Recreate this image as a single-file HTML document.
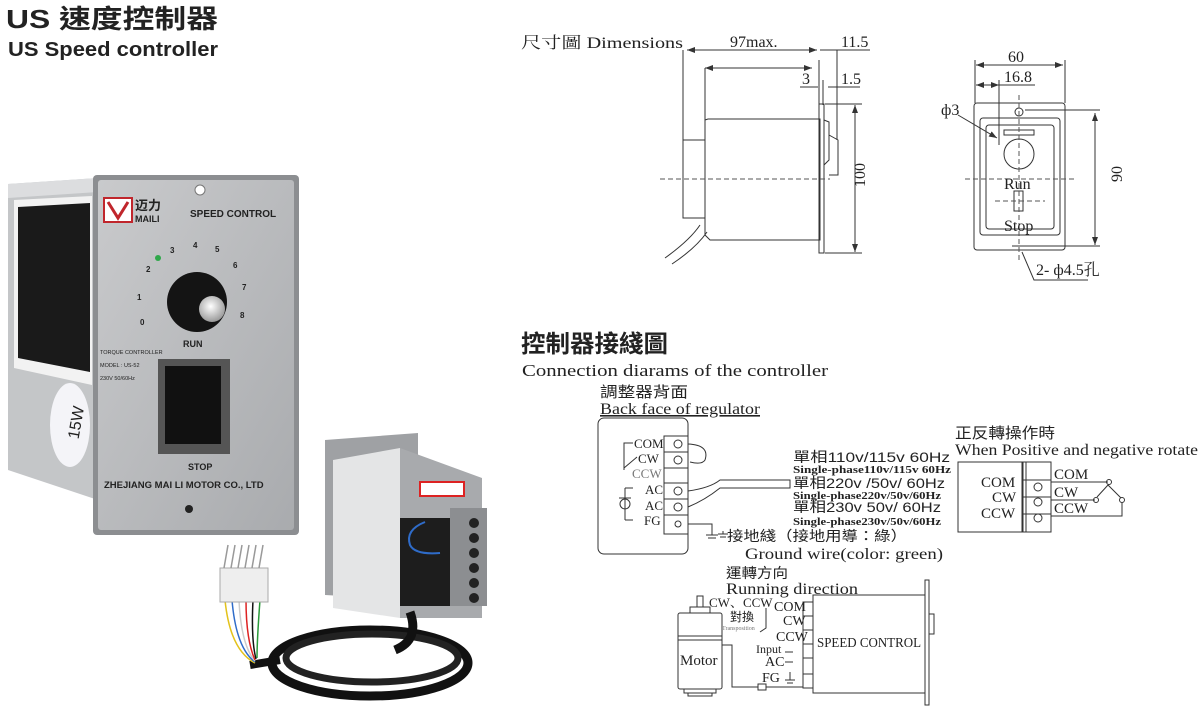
<!DOCTYPE html>
<html><head><meta charset="utf-8"><style>
html,body{margin:0;padding:0;background:#fff;}
svg{display:block}
.s{font-family:"Liberation Serif","Noto Serif CJK SC",serif;fill:#222}
.a{font-family:"Liberation Sans","Noto Sans CJK TC",sans-serif;fill:#222}
.ln{stroke:#333;stroke-width:1;fill:none}
.d{stroke:#555;stroke-width:1;stroke-dasharray:5,3;fill:none}
</style></head><body>
<svg width="1200" height="712" viewBox="0 0 1200 712" xmlns="http://www.w3.org/2000/svg">
<defs><marker id="ar" markerWidth="8" markerHeight="6" refX="8" refY="3" orient="auto"><path d="M0,0 L8,3 L0,6z" fill="#333"/></marker>
<marker id="al" markerWidth="8" markerHeight="6" refX="0" refY="3" orient="auto"><path d="M8,0 L0,3 L8,6z" fill="#333"/></marker>
<linearGradient id="gp" x1="0" x2="1" y1="0" y2="1"><stop offset="0" stop-color="#c9cacc"/><stop offset="1" stop-color="#a9abae"/></linearGradient>
<radialGradient id="kn" cx="0.45" cy="0.4" r="0.6"><stop offset="0" stop-color="#fff"/><stop offset="1" stop-color="#9a9a9a"/></radialGradient></defs>

<!-- titles -->
<text x="6" y="28" class="a" font-size="26" font-weight="bold" textLength="212" lengthAdjust="spacingAndGlyphs">US 速度控制器</text>
<text x="8" y="56" class="a" font-size="20" font-weight="bold" textLength="210" lengthAdjust="spacingAndGlyphs">US Speed controller</text>

<!-- photo 1: side -->
<path d="M8,184 L98,178 L98,500 L8,470 Z" fill="#c4c6c8"/>
<path d="M8,184 L98,178 L98,192 L8,198Z" fill="#dcdddf"/>
<path d="M14,200 L92,196 L92,385 L14,368Z" fill="#f2f2f2"/>
<path d="M18,207 L90,203 L90,372 L18,358Z" fill="#1a1a1a"/>
<ellipse cx="70" cy="425" rx="20" ry="42" fill="#f4f4f8"/>
<text x="62" y="440" class="a" font-size="16" fill="#3a3a8a" transform="rotate(-80 70 430)">15W</text>
<!-- front panel -->
<rect x="93" y="175" width="206" height="360" rx="4" fill="#8c8e91"/>
<rect x="98" y="180" width="196" height="350" rx="3" fill="url(#gp)"/>
<circle cx="200" cy="190" r="5" fill="#fff" stroke="#777"/>
<rect x="104" y="198" width="28" height="24" fill="#fff" stroke="#c0262c" stroke-width="2"/>
<path d="M108,202 L118,218 L128,202" stroke="#c0262c" stroke-width="3" fill="none"/>
<text x="135" y="210" class="a" font-size="13" fill="#c0262c" font-weight="bold">迈力</text>
<text x="135" y="222" class="a" font-size="9" fill="#c0262c" font-weight="bold">MAILI</text>
<text x="190" y="217" class="a" font-size="10" font-weight="bold">SPEED CONTROL</text>
<circle cx="158" cy="258" r="3" fill="#2fa84a"/>
<g class="a" font-size="8" font-weight="bold"><text x="140" y="325">0</text><text x="137" y="300">1</text><text x="146" y="272">2</text><text x="170" y="253">3</text><text x="193" y="248">4</text><text x="215" y="252">5</text><text x="233" y="268">6</text><text x="242" y="290">7</text><text x="240" y="318">8</text></g>
<circle cx="197" cy="302" r="30" fill="#141414"/>
<circle cx="212" cy="309" r="13" fill="url(#kn)"/>
<text x="183" y="347" class="a" font-size="9" font-weight="bold">RUN</text>
<text x="100" y="354" class="a" font-size="5.5">TORQUE CONTROLLER</text>
<text x="100" y="367" class="a" font-size="5.5">MODEL : US-52</text>
<text x="100" y="380" class="a" font-size="5.5">230V 50/60Hz</text>
<rect x="158" y="359" width="72" height="95" fill="#555"/>
<rect x="165" y="366" width="56" height="78" fill="#111"/>
<text x="188" y="470" class="a" font-size="9" font-weight="bold">STOP</text>
<text x="104" y="488" class="a" font-size="9.5" font-weight="bold">ZHEJIANG MAI LI MOTOR CO., LTD</text>
<circle cx="189" cy="509" r="4" fill="#222"/>

<!-- photo 2 -->
<path d="M325,440 L418,433 L418,600 L325,595Z" fill="#9fa1a4"/>
<path d="M333,460 L400,448 L400,618 L333,608Z" fill="#e4e5e6"/>
<path d="M400,448 L482,478 L482,618 L400,618Z" fill="#a8aaad"/>
<rect x="420" y="482" width="44" height="14" fill="#fff" stroke="#d22" stroke-width="2"/>
<rect x="400" y="518" width="52" height="88" fill="#1d1d1d"/>
<path d="M425,522 Q405,530 410,545 Q415,555 440,553" stroke="#2f6cc9" stroke-width="2" fill="none"/>
<rect x="450" y="508" width="37" height="98" fill="#8c8e91"/>
<g fill="#222"><circle cx="474" cy="523" r="5"/><circle cx="474" cy="538" r="5"/><circle cx="474" cy="553" r="5"/><circle cx="474" cy="568" r="5"/><circle cx="474" cy="583" r="5"/><circle cx="474" cy="598" r="5"/></g>
<ellipse cx="370" cy="663" rx="98" ry="33" fill="none" stroke="#111" stroke-width="9"/>
<ellipse cx="372" cy="658" rx="86" ry="24" fill="none" stroke="#222" stroke-width="7"/>
<path d="M410,612 Q420,640 395,650" stroke="#111" stroke-width="9" fill="none"/>
<path d="M280,660 L250,665" stroke="#111" stroke-width="8"/>
<g stroke-width="1.5" fill="none"><path d="M225,600 Q230,650 255,663" stroke="#e3c21b"/><path d="M232,600 Q236,648 255,662" stroke="#2f6cc9"/><path d="M239,600 Q241,645 255,661" stroke="#ccc"/><path d="M246,600 Q246,640 255,660" stroke="#d22"/><path d="M253,600 Q251,640 256,659" stroke="#111"/><path d="M260,600 Q257,640 257,658" stroke="#2a9a3a"/></g>
<rect x="220" y="568" width="48" height="34" fill="#eee" stroke="#aaa"/>
<g stroke="#999" stroke-width="1.5"><line x1="224" y1="568" x2="228" y2="545"/><line x1="231" y1="568" x2="235" y2="545"/><line x1="238" y1="568" x2="242" y2="545"/><line x1="245" y1="568" x2="249" y2="545"/><line x1="252" y1="568" x2="256" y2="545"/><line x1="259" y1="568" x2="263" y2="545"/></g>

<!-- dimensions -->
<text x="521" y="48" class="s" font-size="16" textLength="162" lengthAdjust="spacingAndGlyphs">尺寸圖 Dimensions</text>
<g class="ln">
<line x1="683" y1="50" x2="683" y2="140"/>
<line x1="687" y1="50" x2="817" y2="50" marker-start="url(#al)" marker-end="url(#ar)"/>
<line x1="705" y1="68" x2="812" y2="68" marker-start="url(#al)" marker-end="url(#ar)"/>
<line x1="705" y1="68" x2="705" y2="120"/>
<line x1="820" y1="50" x2="836" y2="50"/><line x1="836" y1="50" x2="870" y2="50"/>
<line x1="837" y1="50" x2="837" y2="140"/>
<line x1="800" y1="87" x2="818" y2="87"/><line x1="828" y1="87" x2="860" y2="87"/>
<line x1="819" y1="60" x2="819" y2="105"/><line x1="823" y1="80" x2="823" y2="105"/>
<line x1="855" y1="105" x2="855" y2="252" marker-start="url(#al)" marker-end="url(#ar)"/>
<line x1="825" y1="104" x2="862" y2="104"/><line x1="825" y1="253" x2="862" y2="253"/>
<rect x="683" y="140" width="22" height="78"/>
<path d="M705,120 L708,119 L820,119 L820,240 L710,240 L705,235Z"/>
<rect x="819" y="104" width="5" height="149"/>
<path d="M824,120 L829,122 L829,160 L824,165 M829,135 L838,140 L838,175 L829,175"/>
<path d="M665,258 Q690,240 700,225 M672,264 Q696,248 707,232"/>
</g>
<line x1="660" y1="179" x2="830" y2="179" class="d"/>
<g class="s" font-size="16"><text x="730" y="47">97max.</text><text x="841" y="47">11.5</text><text x="802" y="84">3</text><text x="841" y="84">1.5</text><text x="850" y="202" transform="rotate(-90 850 187)">100</text></g>
<!-- front view -->
<g class="ln">
<rect x="974" y="103" width="91" height="147" rx="3"/>
<rect x="980" y="118" width="80" height="117" rx="3"/>
<rect x="986" y="125" width="68" height="104" rx="3"/>
<circle cx="1019" cy="112" r="4"/>
<rect x="1004" y="130" width="30" height="5"/>
<circle cx="1019" cy="154" r="15"/>
<rect x="1014" y="191" width="9" height="20"/>
<line x1="976" y1="65" x2="1063" y2="65" marker-start="url(#al)" marker-end="url(#ar)"/>
<line x1="976" y1="85" x2="999" y2="85" marker-start="url(#al)" marker-end="url(#ar)"/>
<line x1="999" y1="85" x2="1035" y2="85"/>
<line x1="975" y1="60" x2="975" y2="103"/><line x1="1065" y1="60" x2="1065" y2="103"/>
<line x1="999" y1="80" x2="999" y2="145"/>
<line x1="1095" y1="113" x2="1095" y2="245" marker-start="url(#al)" marker-end="url(#ar)"/>
<line x1="1025" y1="110" x2="1100" y2="110"/><line x1="1012" y1="246" x2="1100" y2="246"/>
<line x1="958" y1="115" x2="997" y2="138" marker-end="url(#ar)"/>
<path d="M1022,252 L1034,280 L1088,280"/>
</g>
<line x1="1019" y1="95" x2="1019" y2="260" class="d"/>
<line x1="965" y1="179" x2="1075" y2="179" class="d"/>
<line x1="995" y1="201" x2="1045" y2="201" class="d"/>
<g class="s" font-size="16"><text x="1008" y="62">60</text><text x="1004" y="82">16.8</text><text x="941" y="115">ф3</text><text x="1004" y="189">Run</text><text x="1004" y="231">Stop</text><text x="1036" y="275">2- ф4.5孔</text><text x="1112" y="192" transform="rotate(-90 1112 182)">90</text></g>

<!-- connection -->
<text x="521" y="352" class="a" font-size="24" font-weight="bold" textLength="147" lengthAdjust="spacingAndGlyphs">控制器接綫圖</text>
<text x="522" y="376" class="s" font-size="17" textLength="306" lengthAdjust="spacingAndGlyphs">Connection diarams of the controller</text>
<text x="600" y="397" class="a" font-size="15" textLength="88" lengthAdjust="spacingAndGlyphs">調整器背面</text>
<text x="600" y="414" class="s" font-size="16" text-decoration="underline" textLength="160" lengthAdjust="spacingAndGlyphs">Back face of regulator</text>
<g class="ln">
<rect x="598" y="418" width="90" height="136" rx="6"/>
<rect x="664" y="436" width="24" height="98"/>
<line x1="664" y1="452" x2="688" y2="452"/><line x1="664" y1="468" x2="688" y2="468"/><line x1="664" y1="483" x2="688" y2="483"/><line x1="664" y1="499" x2="688" y2="499"/><line x1="664" y1="515" x2="688" y2="515"/>
<circle cx="678" cy="444" r="4"/><circle cx="678" cy="460" r="4"/><circle cx="678" cy="491" r="4"/><circle cx="678" cy="507" r="4"/><circle cx="678" cy="524" r="3"/>
<path d="M633,443 L624,443 L624,470 M637,457 L624,468"/>
<path d="M625,488 L625,520 M619,498 h12 M625,488 h8 M625,520 h8"/><circle cx="625" cy="504" r="5"/>
<path d="M688,444 Q710,445 705,460 Q702,465 690,462"/>
<path d="M688,491 Q710,488 720,480 L790,480 L790,488 L720,488 Q705,500 688,507"/>
<path d="M688,524 L712,524 L712,535 M706,535 h12 M708,538 h8"/>
</g>
<g class="s" font-size="13"><text x="634" y="448">COM</text><text x="638" y="463">CW</text><text x="632" y="478" fill="#777">CCW</text><text x="645" y="494">AC</text><text x="645" y="510">AC</text><text x="644" y="525">FG</text></g>
<g class="a" font-size="14"><text x="793" y="462" textLength="157" lengthAdjust="spacingAndGlyphs">單相110v/115v 60Hz</text><text x="793" y="488" textLength="152" lengthAdjust="spacingAndGlyphs">單相220v /50v/ 60Hz</text><text x="793" y="512" textLength="148" lengthAdjust="spacingAndGlyphs">單相230v 50v/ 60Hz</text>
<text x="727" y="541" font-size="14" textLength="180" lengthAdjust="spacingAndGlyphs">接地綫（接地用導：綠）</text></g>
<path d="M718,534 h10 M720,537 h6 M723,531 v3" stroke="#333" fill="none"/>
<g class="s" font-size="10" font-weight="bold"><text x="793" y="473" textLength="158" lengthAdjust="spacingAndGlyphs">Single-phase110v/115v 60Hz</text><text x="793" y="499" textLength="148" lengthAdjust="spacingAndGlyphs">Single-phase220v/50v/60Hz</text><text x="793" y="525" textLength="148" lengthAdjust="spacingAndGlyphs">Single-phase230v/50v/60Hz</text></g>
<text x="745" y="559" class="s" font-size="16" textLength="198" lengthAdjust="spacingAndGlyphs">Ground wire(color: green)</text>

<text x="955" y="438" class="a" font-size="15" textLength="100" lengthAdjust="spacingAndGlyphs">正反轉操作時</text>
<text x="955" y="455" class="s" font-size="16" textLength="243" lengthAdjust="spacingAndGlyphs">When Positive and negative rotate</text>
<g class="ln">
<rect x="958" y="462" width="65" height="70"/>
<rect x="1022" y="462" width="29" height="70"/>
<line x1="1026" y1="462" x2="1026" y2="532"/>
<line x1="1022" y1="480" x2="1051" y2="480"/><line x1="1022" y1="497" x2="1051" y2="497"/><line x1="1022" y1="514" x2="1051" y2="514"/>
<circle cx="1038" cy="487" r="4"/><circle cx="1038" cy="502" r="4"/><circle cx="1038" cy="518" r="4"/>
<path d="M1051,482 L1108,482 M1051,500 L1095,500 M1051,516 L1122,516 L1122,503"/>
<circle cx="1109" cy="482" r="2.5"/><circle cx="1096" cy="500" r="2.5"/><circle cx="1122" cy="500" r="2.5"/>
<path d="M1097,497 L1108,485 L1121,498"/>
</g>
<g class="s" font-size="15"><text x="981" y="487">COM</text><text x="992" y="502">CW</text><text x="981" y="518">CCW</text><text x="1054" y="479">COM</text><text x="1054" y="497">CW</text><text x="1054" y="513">CCW</text></g>

<text x="726" y="578" class="a" font-size="14" textLength="62" lengthAdjust="spacingAndGlyphs">運轉方向</text>
<text x="726" y="594" class="s" font-size="16" textLength="132" lengthAdjust="spacingAndGlyphs">Running direction</text>
<g class="ln">
<rect x="678" y="613" width="44" height="76" rx="2"/>
<line x1="678" y1="636" x2="722" y2="636"/><line x1="678" y1="640" x2="722" y2="640"/>
<rect x="684" y="689" width="32" height="4"/><rect x="688" y="693" width="24" height="3"/>
<rect x="690" y="607" width="20" height="6"/><rect x="697" y="596" width="6" height="11"/>
<rect x="813" y="595" width="112" height="98"/>
<rect x="803" y="602" width="10" height="86"/>
<line x1="803" y1="616" x2="813" y2="616"/><line x1="803" y1="630" x2="813" y2="630"/><line x1="803" y1="644" x2="813" y2="644"/><line x1="803" y1="658" x2="813" y2="658"/><line x1="803" y1="674" x2="813" y2="674"/>
<rect x="925" y="580" width="4" height="125"/>
<rect x="929" y="614" width="5" height="20"/>
<path d="M722,645 L732,645 L732,687 L758,687 M766,687 L803,687"/><rect x="758" y="684" width="8" height="6"/>
<path d="M766,608 L766,628 L760,632"/>
<path d="M793,652 h-8 M793,662 h-8 M790,680 v-8 M785,680 h10 M787,683 h6"/>
</g>
<g class="s"><text x="709" y="607" font-size="13">CW、CCW</text><text x="774" y="611" font-size="14">COM</text><text x="783" y="625" font-size="14">CW</text><text x="776" y="641" font-size="14">CCW</text>
<text x="756" y="653" font-size="12">Input</text><text x="765" y="666" font-size="14">AC</text><text x="762" y="682" font-size="14">FG</text>
<text x="680" y="665" font-size="15">Motor</text><text x="817" y="647" font-size="14" textLength="104" lengthAdjust="spacingAndGlyphs">SPEED CONTROL</text>
<text x="722" y="630" font-size="6" fill="#777">Transposition</text></g>
<text x="730" y="621" class="a" font-size="12">對換</text>
</svg>
</body></html>
